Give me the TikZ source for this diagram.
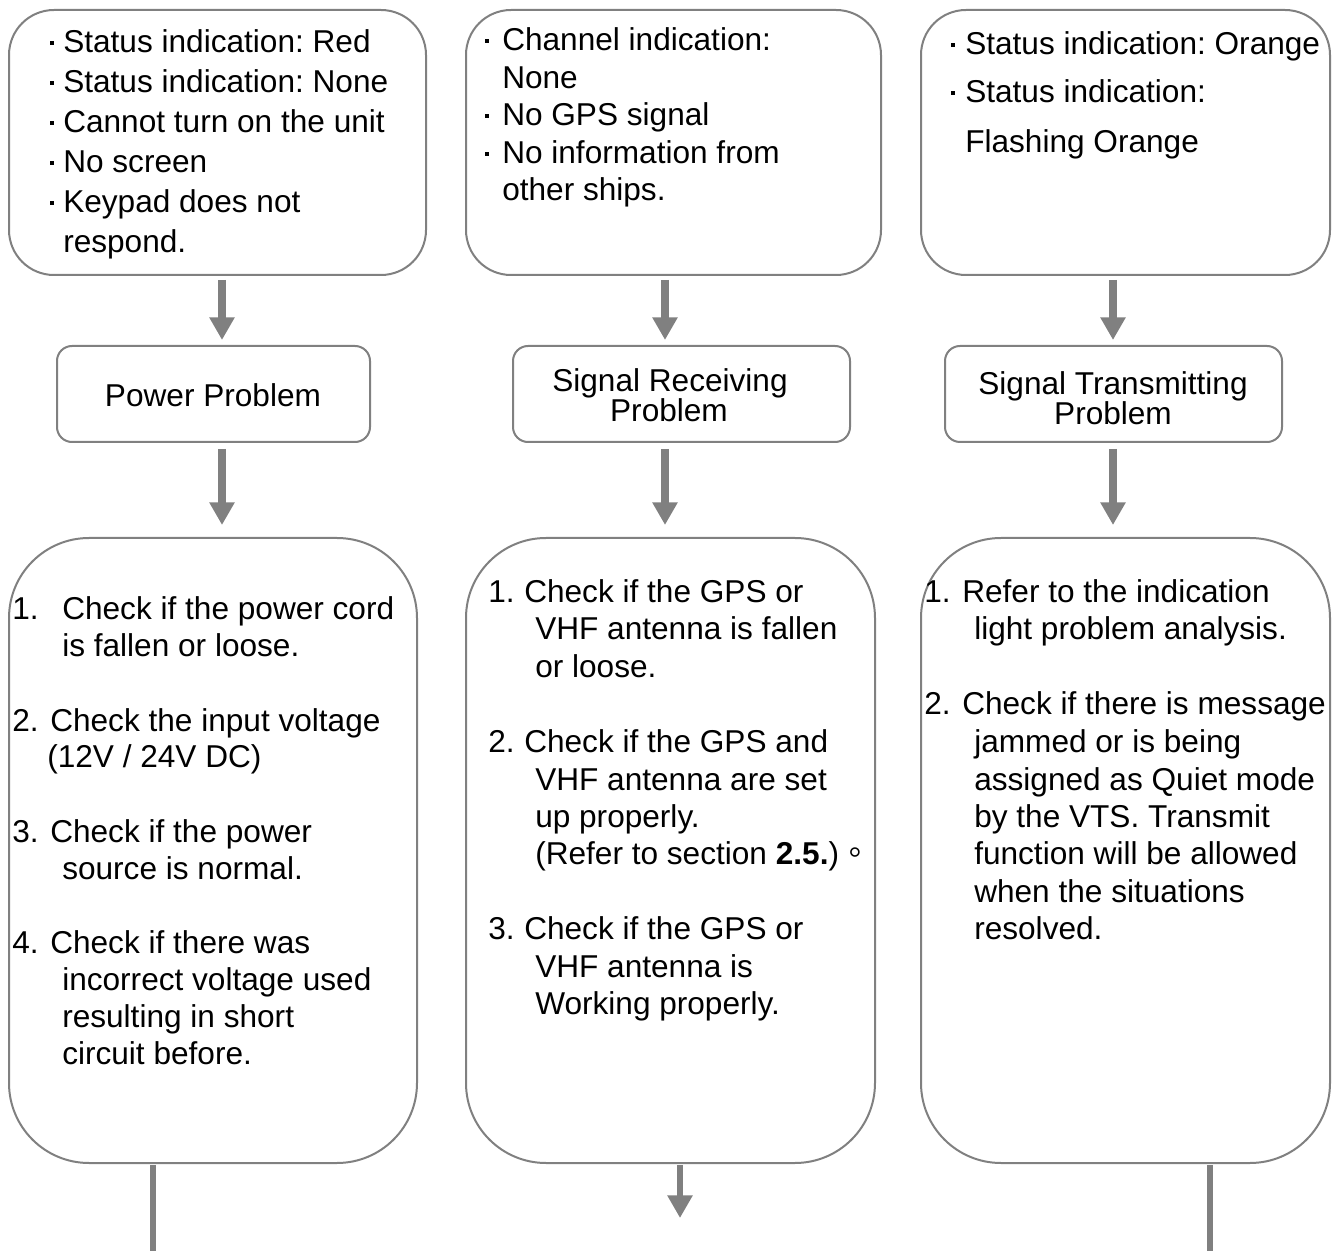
\documentclass[tikz,border=0pt]{standalone}
\usepackage{fontspec}
\setmainfont{Liberation Sans}
\newfontfamily\cjk{Noto Sans CJK TC}
\usetikzlibrary{arrows.meta,fit,calc}
\definecolor{linegray}{RGB}{128,128,128}
\newcommand\bul[1]{\llap{\makebox[#1][c]{\raisebox{0.26em}{\rule{0.13em}{0.13em}}}}}
\frenchspacing
\begin{document}
\begin{tikzpicture}[x=0.75pt,y=-0.75pt,
  box/.style={draw=linegray, line width=1.5pt, inner sep=0pt, rectangle, fill=white},
  topbox/.style={box, rounded corners=33.75pt},
  midbox/.style={box, rounded corners=11.25pt},
  botbox/.style={box, rounded corners=60pt},
  txt/.style={inner sep=0pt, anchor=base west, font=\fontsize{23.7pt}{28pt}\selectfont},
  ctxt/.style={txt, anchor=base},
  arr/.style={draw=linegray, line width=6pt, -{Triangle[width=18pt,length=17pt]}},
  tailline/.style={draw=linegray, line width=5pt},
  tailarr/.style={draw=linegray, line width=5pt, -{Triangle[width=18pt,length=17pt]}}
]
\useasboundingbox (0,0) rectangle (1336,1251);

% boxes
\node[topbox, fit={(9,10) (426,275)}] (t1) {};
\node[topbox, fit={(466,10) (881,275)}] (t2) {};
\node[topbox, fit={(921,10) (1330,275)}] (t3) {};
\node[midbox, fit={(57,346) (370,442)}] (m1) {};
\node[midbox, fit={(513,346) (850,442)}] (m2) {};
\node[midbox, fit={(945,346) (1282,442)}] (m3) {};
\node[botbox, fit={(9,538) (417,1163)}] (b1) {};
\node[botbox, fit={(466,538) (875,1163)}] (b2) {};
\node[botbox, fit={(921,538) (1330,1163)}] (b3) {};

% column x positions
\coordinate (c1) at (222,0);
\coordinate (c2) at (665,0);
\coordinate (c3) at (1113,0);

% arrows
\draw[arr, shorten <=3pt, shorten >=3.75pt] (t1.south -| c1) -- (m1.north -| c1);
\draw[arr, shorten <=3pt, shorten >=3.75pt] (t2.south -| c2) -- (m2.north -| c2);
\draw[arr, shorten <=3pt, shorten >=3.75pt] (t3.south -| c3) -- (m3.north -| c3);
\draw[arr, shorten <=4.5pt, shorten >=9pt] (m1.south -| c1) -- (b1.north -| c1);
\draw[arr, shorten <=4.5pt, shorten >=9pt] (m2.south -| c2) -- (b2.north -| c2);
\draw[arr, shorten <=4.5pt, shorten >=9pt] (m3.south -| c3) -- (b3.north -| c3);

% tails
\coordinate (e1) at (153,1251);
\coordinate (e2) at (680,1218);
\coordinate (e3) at (1210,1251);
\draw[tailline, shorten <=0.75pt] (b1.south -| e1) -- (e1);
\draw[tailarr, shorten <=0.75pt] (b2.south -| e2) -- (e2);
\draw[tailline, shorten <=0.75pt] (b3.south -| e3) -- (e3);

% top box 1
\node[txt] (t1a) at (63,53) {\bul{16.5pt}Status indication: Red};
\node[txt] (t1b) at (63,93) {\bul{16.5pt}Status indication: None};
\node[txt] (t1c) at (63,133) {\bul{16.5pt}Cannot turn on the unit};
\node[txt] (t1d) at (63,173) {\bul{16.5pt}No screen};
\node[txt] (t1e) at (63,213) {\bul{16.5pt}Keypad does not};
\node[txt] (t1f) at (63,253) {respond.};

% top box 2
\node[txt] (t2a) at (502,51) {\bul{22.5pt}Channel indication:};
\node[txt] (t2b) at (502,89) {None};
\node[txt] (t2c) at (502,126) {\bul{22.5pt}No GPS signal};
\node[txt] (t2d) at (502,164) {\bul{22.5pt}No information from};
\node[txt] (t2e) at (502,201) {other ships.};

% top box 3
\node[txt] (t3a) at (965,55) {\bul{18pt}Status indication: Orange};
\node[txt] (t3b) at (965,103) {\bul{18pt}Status indication:};
\node[txt] (t3c) at (965,153) {Flashing Orange};

% middle boxes
\node[ctxt] (m1a) at (213,407) {Power Problem};
\node[ctxt] (m2a) at (670,392) {Signal Receiving};
\node[ctxt] (m2b) at (669,422) {Problem};
\node[ctxt] (m3a) at (1113,395) {Signal Transmitting};
\node[ctxt] (m3b) at (1113,425) {Problem};

% bottom box 1
\node[txt] (b1n1) at (12,620) {1.};
\node[txt] (b1a) at (62,620) {Check if the power cord};
\node[txt] (b1b) at (62,657) {is fallen or loose.};
\node[txt] (b1n2) at (12,731) {2.};
\node[txt] (b1c) at (50,731) {Check the input voltage};
\node[txt] (b1d) at (47,768) {(12V / 24V DC)};
\node[txt] (b1n3) at (12,842) {3.};
\node[txt] (b1e) at (50,842) {Check if the power};
\node[txt] (b1f) at (62,879) {source is normal.};
\node[txt] (b1n4) at (12,953) {4.};
\node[txt] (b1g) at (50,953) {Check if there was};
\node[txt] (b1h) at (62,990) {incorrect voltage used};
\node[txt] (b1i) at (62,1027) {resulting in short};
\node[txt] (b1j) at (62,1064) {circuit before.};

% bottom box 2
\node[txt] (b2n1) at (488,603) {1.};
\node[txt] (b2a) at (524,603) {Check if the GPS or};
\node[txt] (b2b) at (535,640) {VHF antenna is fallen};
\node[txt] (b2c) at (535,678) {or loose.};
\node[txt] (b2n2) at (488,752) {2.};
\node[txt] (b2d) at (524,752) {Check if the GPS and};
\node[txt] (b2e) at (535,790) {VHF antenna are set};
\node[txt] (b2f) at (535,827) {up properly.};
\node[txt] (b2g) at (535,864) {(Refer to section \textbf{2.5.}){\cjk 。}};
\node[txt] (b2n3) at (488,939) {3.};
\node[txt] (b2h) at (524,939) {Check if the GPS or};
\node[txt] (b2i) at (535,977) {VHF antenna is};
\node[txt] (b2j) at (535,1014) {Working properly.};

% bottom box 3
\node[txt] (b3n1) at (924,603) {1.};
\node[txt] (b3a) at (962,603) {Refer to the indication};
\node[txt] (b3b) at (974,640) {light problem analysis.};
\node[txt] (b3n2) at (924,715) {2.};
\node[txt] (b3c) at (962,715) {Check if there is message};
\node[txt] (b3d) at (974,752) {jammed or is being};
\node[txt] (b3e) at (974,790) {assigned as Quiet mode};
\node[txt] (b3f) at (974,827) {by the VTS. Transmit};
\node[txt] (b3g) at (974,864) {function will be allowed};
\node[txt] (b3h) at (974,902) {when the situations};
\node[txt] (b3i) at (974,939) {resolved.};
\end{tikzpicture}
\end{document}
